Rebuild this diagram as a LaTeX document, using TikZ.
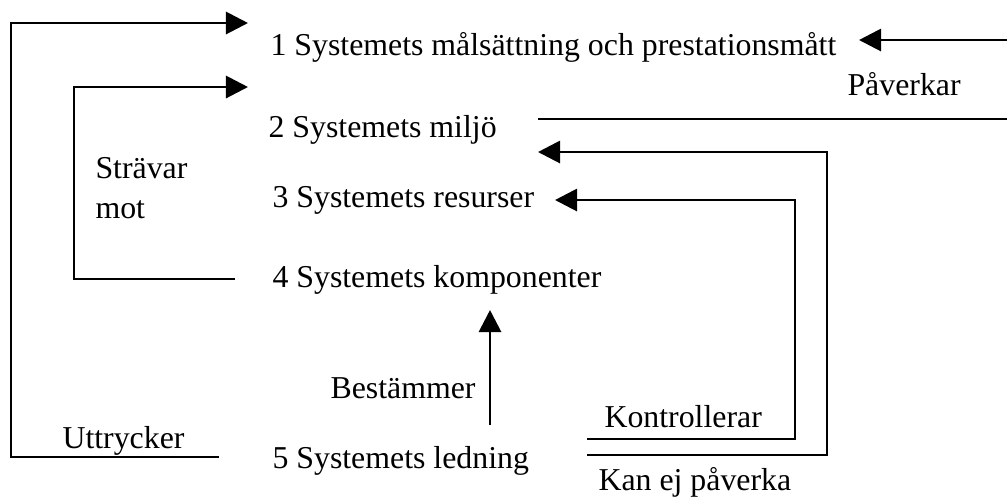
\documentclass[tikz,border=0pt]{standalone}
\usepackage{fontspec}
\setmainfont{Liberation Serif}
\usepackage{tikz}
\usetikzlibrary{arrows.meta}

\begin{document}
\begin{tikzpicture}[
  x=0.377pt, y=-0.377pt,
  font=\fontsize{12}{15}\selectfont,
  level/.style={anchor=base west, inner sep=0pt},
  tag/.style={anchor=base west, inner sep=0pt, align=left},
  link/.style={line width=1.1pt},
  flow/.style={link, -{Triangle[length=8.3pt, width=8.3pt]}}
]
\useasboundingbox (0,0) rectangle (1007,500);

\node[level] (s1) at (270,55) {1 Systemets målsättning och prestationsmått};
\node[level] (s2) at (268,137) {2 Systemets miljö};
\node[level] (s3) at (272,207) {3 Systemets resurser};
\node[level] (s4) at (272,287) {4 Systemets komponenter};
\node[level] (s5) at (272,468) {5 Systemets ledning};

\node[tag] (pav) at (847,95) {Påverkar};
\node[tag, anchor=west] (strv) at (95,188) {Strävar\\mot};
\node[tag] (best) at (330,398) {Bestämmer};
\node[tag] (kont) at (604,427) {Kontrollerar};
\node[tag] (uttr) at (62,448) {Uttrycker};
\node[tag] (kan) at (598,490) {Kan ej påverka};

\coordinate (u0) at (219,457);
\coordinate (u1) at (11,23);
\coordinate (u2) at (248,23);
\draw[flow] (u0) -| (u1) -- (u2);

\coordinate (m0) at (235,279);
\coordinate (m1) at (74,87);
\coordinate (m2) at (248,87);
\draw[flow] (m0) -| (m1) -- (m2);

\coordinate (p0) at (1007,40);
\coordinate (p1) at (859,40);
\draw[flow] (p0) -- (p1);

\coordinate (e0) at (538,119);
\coordinate (e1) at (1007,119);
\draw[link] (e0) -- (e1);

\coordinate (k0) at (587,455);
\coordinate (k1) at (827,152);
\coordinate (k2) at (538,152);
\draw[flow] (k0) -| (k1) -- (k2);

\coordinate (c0) at (587,439);
\coordinate (c1) at (795,200);
\coordinate (c2) at (555,200);
\draw[flow] (c0) -| (c1) -- (c2);

\coordinate (b0) at (490,425);
\coordinate (b1) at (490,310);
\draw[flow] (b0) -- (b1);
\end{tikzpicture}
\end{document}
